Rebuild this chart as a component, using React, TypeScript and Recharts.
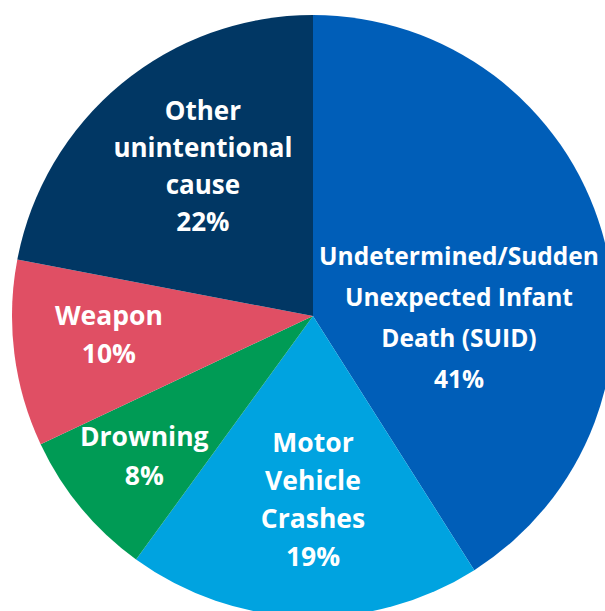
import { Cell, Pie, PieChart } from "recharts";

const CAUSES = [
  "Undetermined/Sudden Unexpected Infant Death (SUID)",
  "Motor Vehicle Crashes",
  "Drowning",
  "Weapon",
  "Other unintentional cause",
];
const SHARES = [41, 19, 8, 10, 22];
const LABEL_LINES = [
  ["Undetermined/Sudden", "Unexpected Infant", "Death (SUID)"],
  ["Motor", "Vehicle", "Crashes"],
  ["Drowning"],
  ["Weapon"],
  ["Other", "unintentional", "cause"],
];
const COLORS = ["#005EB8", "#00A3E0", "#009B55", "#E04F64", "#013764"];

// label placement tweaks, per slice (distance from centre, angle nudge, line spacing, size)
const LABEL_RADIUS = [146, 184, 219, 205, 186];
const LABEL_TURN = [-17, 1.8, 0, -1.9, -3.3];
const LINE_HEIGHT = [41, 38, 39, 38, 37];
const FONT_SIZE = [24.5, 26.5, 26.5, 26.5, 26];

const RAD = Math.PI / 180;

const data = CAUSES.map((name, i) => ({ name, value: SHARES[i] }));

function renderLabel(props: any) {
  const { cx, cy, midAngle, index } = props;
  const angle = (midAngle + LABEL_TURN[index]) * RAD;
  const r = LABEL_RADIUS[index];
  const x = cx + r * Math.cos(angle);
  const y = cy - r * Math.sin(angle);
  const lines = [...LABEL_LINES[index], `${SHARES[index]}%`];
  const lh = LINE_HEIGHT[index];
  const fs = FONT_SIZE[index];
  return (
    <g key={`lbl-${index}`}>
      {lines.map((t, i) => (
        <text
          key={i}
          x={x}
          y={y + (i - (lines.length - 1) / 2) * lh + fs * 0.357}
          textAnchor="middle"
          fill="#FFFFFF"
          style={{ fontFamily: "'Open Sans', sans-serif", fontWeight: 700, fontSize: fs }}
        >
          {t}
        </text>
      ))}
    </g>
  );
}

export default function App() {
  return (
    <div style={{ position: "absolute", left: 0, top: 0, width: 605, height: 611, background: "#fff" }}>
      <PieChart width={605} height={611} margin={{ top: 0, right: 0, bottom: 0, left: 0 }}>
        <Pie
          data={data}
          dataKey="value"
          nameKey="name"
          cx={313}
          cy={316}
          outerRadius={301}
          startAngle={90}
          endAngle={-270}
          stroke="none"
          label={renderLabel}
          labelLine={false}
          isAnimationActive={false}
        >
          {data.map((d, i) => (
            <Cell key={d.name} fill={COLORS[i]} />
          ))}
        </Pie>
      </PieChart>
    </div>
  );
}
